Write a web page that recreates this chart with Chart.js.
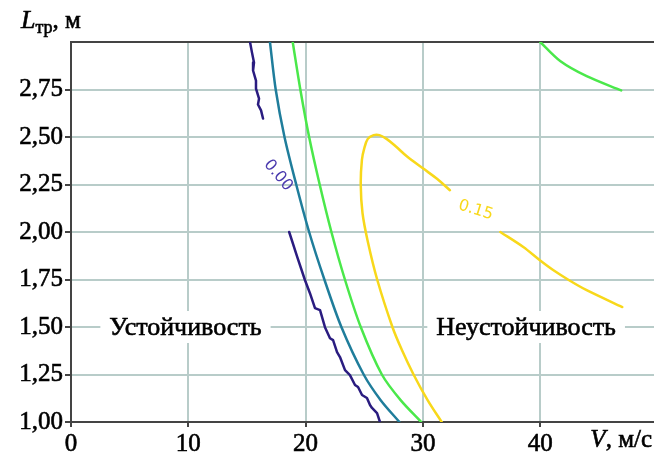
<!DOCTYPE html>
<html><head><meta charset="utf-8">
<script src="https://cdn.jsdelivr.net/npm/chart.js@4/dist/chart.umd.min.js"></script>
<style>html,body{margin:0;padding:0;background:#fff;overflow:hidden}</style>
</head><body>
<canvas id="c" width="654" height="459"></canvas>
<script>
// ---------- data ----------
const xTickValues = [0, 10, 20, 30, 40];
const yTickValues = [1.00, 1.25, 1.50, 1.75, 2.00, 2.25, 2.50, 2.75];
const yTickLabels = ['1,00', '1,25', '1,50', '1,75', '2,00', '2,25', '2,50', '2,75'];

// level 0.00 contour (dark navy), upper piece
const navyUpperV = [15.26, 15.43, 15.60, 15.52, 15.77, 15.77, 16.03, 15.94, 16.20, 16.37];
const navyUpperL = [3.00, 2.944, 2.892, 2.850, 2.797, 2.755, 2.702, 2.671, 2.640, 2.597];
// level 0.00 contour (dark navy), lower piece
const navyLowerV = [18.60, 19.27, 19.95, 20.37, 20.80, 21.23, 21.65, 22.08, 22.34, 22.68, 22.93, 23.36, 23.78, 24.21, 24.47, 24.81, 25.23, 25.49, 25.66, 26.09, 26.34];
const navyLowerL = [2.000, 1.872, 1.746, 1.678, 1.599, 1.589, 1.499, 1.441, 1.431, 1.368, 1.342, 1.273, 1.247, 1.195, 1.184, 1.142, 1.126, 1.089, 1.074, 1.047, 1.000];
// teal contour
const tealV = [16.96, 17.45, 18.20, 19.20, 20.30, 21.60, 23.05, 24.95, 26.40, 28.00];
const tealL = [3.00, 2.75, 2.50, 2.25, 2.00, 1.75, 1.50, 1.25, 1.115, 1.00];
// green contour, left piece
const greenV = [18.90, 19.55, 20.30, 21.20, 22.20, 23.35, 24.70, 26.50, 28.10, 29.85];
const greenL = [3.00, 2.75, 2.50, 2.25, 2.00, 1.75, 1.50, 1.25, 1.115, 1.00];
// green contour, upper-right piece
const greenRightV = [40.00, 41.70, 43.96, 46.90];
const greenRightL = [3.00, 2.90, 2.82, 2.745];
// level 0.15 contour (yellow), loop piece
const yellowLoopV = [31.60, 30.40, 29.20, 28.20, 27.40, 26.10, 25.30, 24.85, 24.70, 24.80, 25.00, 25.30, 25.80, 26.30, 26.90, 27.70, 28.60, 30.00, 31.20, 32.30];
const yellowLoopL = [1.00, 1.115, 1.25, 1.38, 1.50, 1.75, 1.95, 2.10, 2.25, 2.38, 2.44, 2.49, 2.51, 2.51, 2.49, 2.45, 2.40, 2.335, 2.28, 2.22];
// level 0.15 contour (yellow), right piece
const yellowRightV = [36.60, 38.56, 40.00, 41.10, 42.50, 43.96, 47.00];
const yellowRightL = [2.00, 1.921, 1.85, 1.80, 1.745, 1.694, 1.605];

const regionText = ['Устойчивость', 'Неустойчивость'];
const regionV = [9.76, 38.8];
const regionL = [1.50, 1.50];

const contourText = ['0.00', '0.15'];
const contourV = [17.65, 34.5];
const contourL = [2.298, 2.114];

// ---------- styles ----------
const NAVY = '#2a1c80', TEAL = '#1f7d9b', GREEN = '#4ae84a', YELLOW = '#f8d81a';
const GRID = '#b8ccc9', AXIS = '#444444';
const SERIF = '"Liberation Serif", "Times New Roman", serif';
const STROKE = 0.6;

function pts(V, L) { return V.map((v, i) => ({ x: v, y: L[i] })); }
function ds(V, L, color, tension) {
  return { data: pts(V, L), borderColor: color, borderWidth: 2.5, showLine: true,
           pointRadius: 0, tension: tension, fill: false, borderJoinStyle: 'round', borderCapStyle: 'round' };
}
function heavyText(ctx, t, x, y) {
  ctx.fillText(t, x, y);
  ctx.lineWidth = STROKE; ctx.strokeStyle = ctx.fillStyle; ctx.strokeText(t, x, y);
}

const decor = {
  id: 'decor',
  beforeDatasetsDraw(chart) {
    const { ctx, chartArea, scales } = chart;
    ctx.save();
    ctx.strokeStyle = AXIS; ctx.lineWidth = 2;
    ctx.beginPath(); ctx.moveTo(chartArea.left, chartArea.top); ctx.lineTo(chartArea.right, chartArea.top); ctx.stroke();
    ctx.font = '26px ' + SERIF;
    ctx.textAlign = 'center'; ctx.textBaseline = 'middle';
    regionText.forEach((t, i) => {
      const x = scales.x.getPixelForValue(regionV[i]);
      const y = scales.y.getPixelForValue(regionL[i]);
      const w = ctx.measureText(t).width;
      ctx.fillStyle = '#fff';
      ctx.fillRect(x - w / 2 - 9, y - 16, w + 18, 32);
      ctx.fillStyle = '#000';
      heavyText(ctx, t, x, y + 1);
    });
    ctx.restore();
  },
  afterDatasetsDraw(chart) {
    const { ctx, scales } = chart;
    ctx.save();
    const angles = [50, 17];
    const colors = ['#4a3aae', YELLOW];
    ctx.font = '16px "DejaVu Sans", sans-serif';
    ctx.textAlign = 'center'; ctx.textBaseline = 'middle';
    contourText.forEach((t, i) => {
      const x = scales.x.getPixelForValue(contourV[i]);
      const y = scales.y.getPixelForValue(contourL[i]);
      ctx.save();
      ctx.translate(x, y); ctx.rotate(angles[i] * Math.PI / 180);
      ctx.fillStyle = colors[i];
      ctx.fillText(t, 0, 0);
      ctx.restore();
    });
    ctx.fillStyle = '#000';
    ctx.textAlign = 'left'; ctx.textBaseline = 'alphabetic';
    let x = 21;
    ctx.font = 'italic 26px ' + SERIF; heavyText(ctx, 'L', x, 28); x += ctx.measureText('L').width;
    ctx.font = '18px ' + SERIF; heavyText(ctx, 'тр', x, 33); x += ctx.measureText('тр').width;
    ctx.font = '25px ' + SERIF; heavyText(ctx, ', м', x, 28);
    ctx.font = '25px ' + SERIF;
    const rest = ', м/с';
    const wr = ctx.measureText(rest).width;
    ctx.font = 'italic 25px ' + SERIF;
    const wv = ctx.measureText('V').width;
    const xs = 652 - wr - wv;
    heavyText(ctx, 'V', xs, 447);
    ctx.font = '25px ' + SERIF; heavyText(ctx, rest, xs + wv, 447);
    ctx.restore();
  }
};

new Chart(document.getElementById('c'), {
  type: 'scatter',
  data: {
    datasets: [
      ds(navyUpperV, navyUpperL, NAVY, 0),
      ds(navyLowerV, navyLowerL, NAVY, 0),
      ds(tealV, tealL, TEAL, 0.3),
      ds(greenV, greenL, GREEN, 0.3),
      ds(greenRightV, greenRightL, GREEN, 0.3),
      ds(yellowLoopV, yellowLoopL, YELLOW, 0.35),
      ds(yellowRightV, yellowRightL, YELLOW, 0.3)
    ]
  },
  options: {
    responsive: false,
    animation: false,
    layout: { padding: { top: 42, right: 0, left: 0, bottom: 0 } },
    plugins: { legend: { display: false }, tooltip: { enabled: false } },
    scales: {
      x: {
        type: 'linear', min: 0, max: 49.7,
        afterBuildTicks: s => { s.ticks = xTickValues.map(v => ({ value: v })); },
        afterFit: s => { s.height = 37; },
        grid: { color: GRID, lineWidth: 2, tickLength: 5, tickColor: AXIS, tickWidth: 2 },
        border: { display: true, color: AXIS, width: 2 },
        ticks: { color: '#000', padding: 2, maxRotation: 0, autoSkip: false,
                 textStrokeColor: '#000', textStrokeWidth: STROKE,
                 font: { family: SERIF, size: 25 }, callback: v => String(v) }
      },
      y: {
        type: 'linear', min: 1, max: 3,
        afterBuildTicks: s => { s.ticks = yTickValues.concat([3]).map(v => ({ value: v })); },
        afterFit: s => { s.width = 71; },
        grid: { color: c => (c.tick && c.tick.value === 3 ? 'rgba(0,0,0,0)' : GRID), lineWidth: 2,
                tickLength: 6, tickColor: c => (c.tick && c.tick.value === 3 ? 'rgba(0,0,0,0)' : AXIS), tickWidth: 2 },
        border: { display: true, color: AXIS, width: 2 },
        ticks: { color: '#000', padding: 2, autoSkip: false,
                 textStrokeColor: '#000', textStrokeWidth: STROKE,
                 font: { family: SERIF, size: 25 },
                 callback: (v) => { const i = yTickValues.indexOf(v); return i >= 0 ? yTickLabels[i] : ''; } }
      }
    }
  },
  plugins: [decor]
});
</script>
</body></html>
